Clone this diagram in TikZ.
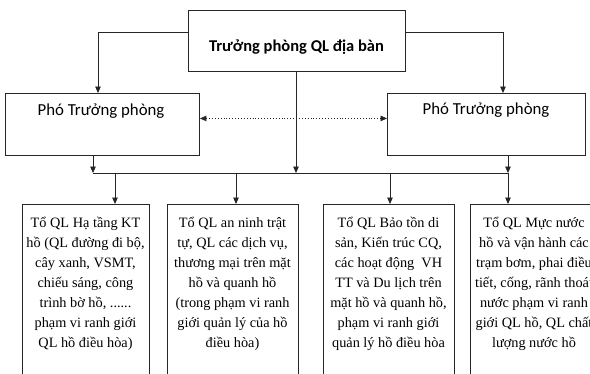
\documentclass[tikz,border=0pt]{standalone}
\usepackage{fontspec}
\setmainfont{Liberation Serif}
\newfontfamily\calfont{Carlito}
\usetikzlibrary{arrows.meta}
\begin{document}
\begin{tikzpicture}[x=1pt,y=-1pt,
  box/.style={draw=black!85, line width=0.9pt, inner sep=0pt, anchor=north west},
  arr/.style={draw=black!85, line width=0.9pt, -{Triangle[length=6.5pt,width=5.5pt]}},
  twoway/.style={draw=black!85, line width=0.9pt, dotted,
    {Triangle[length=6.5pt,width=5.5pt]}-{Triangle[length=6.5pt,width=5.5pt]}},
  teamtext/.style={anchor=north, align=center, inner sep=0pt,
    font=\fontsize{14.3}{20}\selectfont},
  head/.style={font=\calfont\bfseries\fontsize{16.5}{19}\selectfont, inner sep=0pt},
  deputy/.style={font=\calfont\fontsize{16.8}{19}\selectfont, inner sep=0pt}]
\useasboundingbox (0,0) rectangle (590,373);
\clip (0,0) rectangle (590,373);
\fill[white] (0,0) rectangle (590,373);

% head of office
\node[box, minimum width=217pt, minimum height=61pt] (top) at (188,10) {};
\node[head] (toptxt) at (296.5,47) {Trưởng phòng QL địa bàn};

% deputies
\node[box, minimum width=194pt, minimum height=62pt] (vl) at (5,93) {};
\node[deputy] (vltxt) at (101,111) {Phó Trưởng phòng};
\node[box, minimum width=198pt, minimum height=62pt] (vr) at (387,93) {};
\node[deputy] (vrtxt) at (486,110) {Phó Trưởng phòng};

% teams
\node[box, minimum width=127pt, minimum height=200pt] (b1) at (22,204) {};
\node[box, minimum width=131pt, minimum height=200pt] (b2) at (167,204) {};
\node[box, minimum width=131pt, minimum height=200pt] (b3) at (323,204) {};
\node[box, minimum width=131pt, minimum height=200pt] (b4) at (470,204) {};

\node[teamtext] (t1) at (85.5,217) {Tổ QL Hạ tầng KT\\hồ (QL đường đi bộ,\\cây xanh, VSMT,\\chiếu sáng, công\\trình bờ hồ, ......\\phạm vi ranh giới\\QL hồ điều hòa)};
\node[teamtext] (t2) at (232.5,217) {Tổ QL an ninh trật\\tự, QL các dịch vụ,\\thương mại trên mặt\\hồ và quanh hồ\\(trong phạm vi ranh\\giới quản lý của hồ\\điều hòa)};
\node[teamtext] (t3) at (388.5,217) {Tổ QL Bảo tồn di\\sản, Kiến trúc CQ,\\các hoạt động\ \ VH\\TT và Du lịch trên\\mặt hồ và quanh hồ,\\phạm vi ranh giới\\quản lý hồ điều hòa};
\node[teamtext] (t4) at (534,217) {Tổ QL Mực nước\\hồ và vận hành các\\trạm bơm, phai điều\\tiết, cống, rãnh thoát\\nước phạm vi ranh\\giới QL hồ, QL chất\\lượng nước hồ};

% bus and tap points
\coordinate (busL) at (93,173);
\coordinate (busM) at (296,173);
\coordinate (busR) at (508,173);
\coordinate (dl) at (98,32);
\coordinate (dr) at (503,32);
\coordinate (k1) at (115,173);
\coordinate (k2) at (236,173);
\coordinate (k3) at (390,173);
\coordinate (k4) at (508,173);

% head to deputies
\draw[arr] (top.west |- dl) -- (dl) -- (dl |- vl.north);
\draw[arr] (top.east |- dr) -- (dr) -- (dr |- vr.north);
\draw[twoway] ([yshift=6pt]vl.east) -- ([yshift=6pt]vr.west);

% into the bus
\draw[draw=black!85, line width=0.9pt] (busL) -- (busR);
\draw[arr] (top.south -| busM) -- (busM);
\draw[arr] (vl.south -| busL) -- (busL);
\draw[arr] (vr.south -| busR) -- (busR);

% bus to teams
\draw[arr] (k1) -- (k1 |- b1.north);
\draw[arr] (k2) -- (k2 |- b2.north);
\draw[arr] (k3) -- (k3 |- b3.north);
\draw[arr] (k4) -- (k4 |- b4.north);
\end{tikzpicture}
\end{document}
